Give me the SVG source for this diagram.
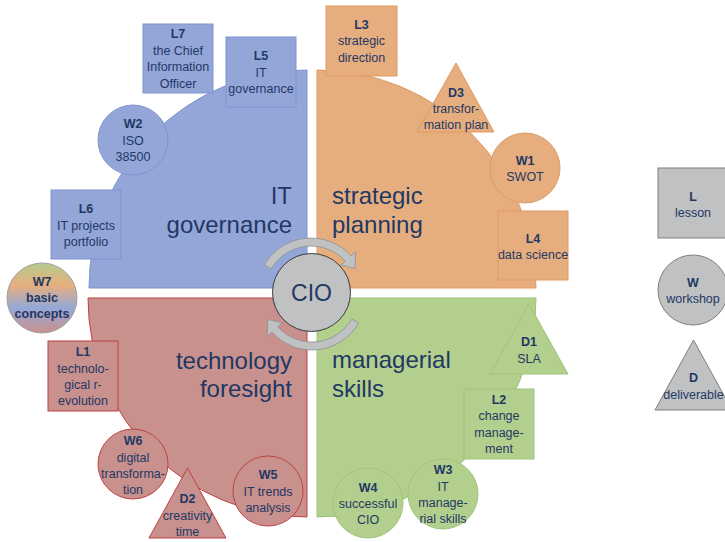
<svg xmlns="http://www.w3.org/2000/svg" width="725" height="542" viewBox="0 0 725 542">
  <style>
    .blue { fill: #94A6D8; stroke: #7F93CF; stroke-width: 1; }
    .orange { fill: #E6AE7E; stroke: #E09A62; stroke-width: 1; }
    .red { fill: #C8918E; stroke: #C0403E; stroke-width: 1; }
    .green { fill: #B3CF8D; stroke: #A0C47A; stroke-width: 1; }
    .grey { fill: #C0C1C2; stroke: #7F7F7F; stroke-width: 1; }
    .arrow { fill: #C0C1C2; stroke: #8E9092; stroke-width: 0.8; }
    .t { font-family: "Liberation Sans", Arial, sans-serif; font-size: 12.5px; fill: #1F3864; text-anchor: middle; }
    .b { font-weight: bold; }
    .big { font-family: "Liberation Sans", Arial, sans-serif; font-size: 24px; fill: #1F3864; }
    .end { text-anchor: end; }
  </style>
  <defs>
    <linearGradient id="mix" x1="0" y1="0" x2="0" y2="1">
      <stop offset="0" stop-color="#B6CB8C"/>
      <stop offset="0.32" stop-color="#E6AE7E"/>
      <stop offset="0.64" stop-color="#95A8D8"/>
      <stop offset="1" stop-color="#C9918E"/>
    </linearGradient>
  </defs>
  <rect width="725" height="542" fill="#FFFFFF"/>

  <!-- four quadrants -->
  <g id="quadrant-it-governance">
    <path class="blue" d="M307,288 H89 A218,218 0 0 1 307,70 Z"/>
    <text class="big end" x="292" y="204">IT</text>
    <text class="big end" x="292" y="233">governance</text>
  </g>
  <g id="quadrant-strategic-planning">
    <path class="orange" d="M317,288 V70 A219,219 0 0 1 536,288 Z"/>
    <text class="big" x="332" y="204">strategic</text>
    <text class="big" x="332" y="233">planning</text>
  </g>
  <g id="quadrant-technology-foresight">
    <path class="red" d="M307,298 V517 A219,219 0 0 1 88,298 Z"/>
    <text class="big end" x="292" y="369">technology</text>
    <text class="big end" x="292" y="397">foresight</text>
  </g>
  <g id="quadrant-managerial-skills">
    <path class="green" d="M317,298 H536 A219,219 0 0 1 317,517 Z"/>
    <text class="big" x="332" y="368">managerial</text>
    <text class="big" x="332" y="397">skills</text>
  </g>

  <!-- rotating arrows around the centre -->
  <g id="connectors">
    <path class="arrow" d="M264.2,265 A54,54 0 0 1 351.1,255.9 L355.6,251.9 L355.1,268.5 L340.7,265.2 L345.2,261.2 A46,46 0 0 0 271.2,269 Z"/>
    <path class="arrow" d="M358.8,323 A54,54 0 0 1 271.9,332.1 L267.4,336.1 L267.9,319.5 L282.3,322.8 L277.8,326.8 A46,46 0 0 0 351.8,319 Z"/>
  </g>

  <g id="cio">
    <circle cx="311.5" cy="292.5" r="39" fill="#C0C1C2" stroke="#3A3A3A" stroke-width="1"/>
    <text x="311.5" y="301" font-family="Liberation Sans, Arial, sans-serif" font-size="23" fill="#1F3864" text-anchor="middle">CIO</text>
  </g>

  <!-- IT governance -->
  <g id="L7">
    <rect class="blue" x="143" y="24" width="70" height="69"/>
    <text class="t b" x="178" y="38">L7</text>
    <text class="t" x="178" y="54.5">the Chief</text>
    <text class="t" x="178" y="71">Information</text>
    <text class="t" x="178" y="87.5">Officer</text>
  </g>
  <g id="L5">
    <rect class="blue" x="226" y="37" width="70" height="70"/>
    <text class="t b" x="261" y="60">L5</text>
    <text class="t" x="261" y="76.5">IT</text>
    <text class="t" x="261" y="93">governance</text>
  </g>
  <g id="W2">
    <circle class="blue" cx="133" cy="140" r="35"/>
    <text class="t b" x="133" y="128">W2</text>
    <text class="t" x="133" y="144.5">ISO</text>
    <text class="t" x="133" y="161">38500</text>
  </g>
  <g id="L6">
    <rect class="blue" x="51" y="190" width="70" height="69"/>
    <text class="t b" x="86" y="213">L6</text>
    <text class="t" x="86" y="229.5">IT projects</text>
    <text class="t" x="86" y="246">portfolio</text>
  </g>

  <!-- strategic planning -->
  <g id="L3">
    <rect class="orange" x="326" y="6" width="71" height="70"/>
    <text class="t b" x="361.5" y="28.5">L3</text>
    <text class="t" x="361.5" y="45">strategic</text>
    <text class="t" x="361.5" y="61.5">direction</text>
  </g>
  <g id="D3">
    <polygon class="orange" points="456,63 417,132 494,132"/>
    <text class="t b" x="456" y="97">D3</text>
    <text class="t" x="456" y="113">transfor-</text>
    <text class="t" x="456" y="129">mation plan</text>
  </g>
  <g id="W1">
    <circle class="orange" cx="525" cy="168" r="35"/>
    <text class="t b" x="525" y="165">W1</text>
    <text class="t" x="525" y="181">SWOT</text>
  </g>
  <g id="L4">
    <rect class="orange" x="498" y="211" width="70" height="69"/>
    <text class="t b" x="533" y="243">L4</text>
    <text class="t" x="533" y="259">data science</text>
  </g>

  <!-- technology foresight -->
  <g id="W7">
    <circle cx="42" cy="298" r="35" fill="url(#mix)" stroke="#A0A0A0" stroke-width="1"/>
    <text class="t b" x="42" y="286">W7</text>
    <text class="t b" x="42" y="302">basic</text>
    <text class="t b" x="42" y="318">concepts</text>
  </g>
  <g id="L1">
    <rect class="red" x="48" y="341" width="70" height="70"/>
    <text class="t b" x="83" y="356">L1</text>
    <text class="t" x="83" y="372.5">technolo-</text>
    <text class="t" x="83" y="389">gical r-</text>
    <text class="t" x="83" y="405">evolution</text>
  </g>
  <g id="W6">
    <circle class="red" cx="133" cy="464" r="35"/>
    <text class="t b" x="133" y="445">W6</text>
    <text class="t" x="133" y="461.5">digital</text>
    <text class="t" x="133" y="477.5">transforma-</text>
    <text class="t" x="133" y="494">tion</text>
  </g>
  <g id="D2">
    <polygon class="red" points="187.5,468 149,538 226,538"/>
    <text class="t b" x="187.5" y="503">D2</text>
    <text class="t" x="187.5" y="519.5">creativity</text>
    <text class="t" x="187.5" y="535.5">time</text>
  </g>
  <g id="W5">
    <circle class="red" cx="268" cy="491" r="35"/>
    <text class="t b" x="268" y="479">W5</text>
    <text class="t" x="268" y="495.5">IT trends</text>
    <text class="t" x="268" y="511.5">analysis</text>
  </g>

  <!-- managerial skills -->
  <g id="D1">
    <polygon class="green" points="529,304 490,374 568,374"/>
    <text class="t b" x="529" y="346">D1</text>
    <text class="t" x="529" y="362.5">SLA</text>
  </g>
  <g id="L2">
    <rect class="green" x="464" y="389" width="70" height="70"/>
    <text class="t b" x="499" y="404">L2</text>
    <text class="t" x="499" y="420">change</text>
    <text class="t" x="499" y="436.5">manage-</text>
    <text class="t" x="499" y="453">ment</text>
  </g>
  <g id="W4">
    <circle class="green" cx="368" cy="503" r="35"/>
    <text class="t b" x="368" y="492">W4</text>
    <text class="t" x="368" y="508">successful</text>
    <text class="t" x="368" y="524">CIO</text>
  </g>
  <g id="W3">
    <circle class="green" cx="443" cy="494" r="35"/>
    <text class="t b" x="443" y="474">W3</text>
    <text class="t" x="443" y="490.5">IT</text>
    <text class="t" x="443" y="506.5">manage-</text>
    <text class="t" x="443" y="523">rial skills</text>
  </g>

  <!-- legend -->
  <g id="legend-lesson">
    <rect class="grey" x="658" y="168" width="70" height="70"/>
    <text class="t b" x="693" y="200.5">L</text>
    <text class="t" x="693" y="217">lesson</text>
  </g>
  <g id="legend-workshop">
    <circle class="grey" cx="693" cy="290" r="35"/>
    <text class="t b" x="693" y="287">W</text>
    <text class="t" x="693" y="303">workshop</text>
  </g>
  <g id="legend-deliverable">
    <polygon class="grey" points="693.5,340 655,410 732,410"/>
    <text class="t b" x="693.5" y="382">D</text>
    <text class="t" x="693.5" y="398.5">deliverable</text>
  </g>
</svg>
